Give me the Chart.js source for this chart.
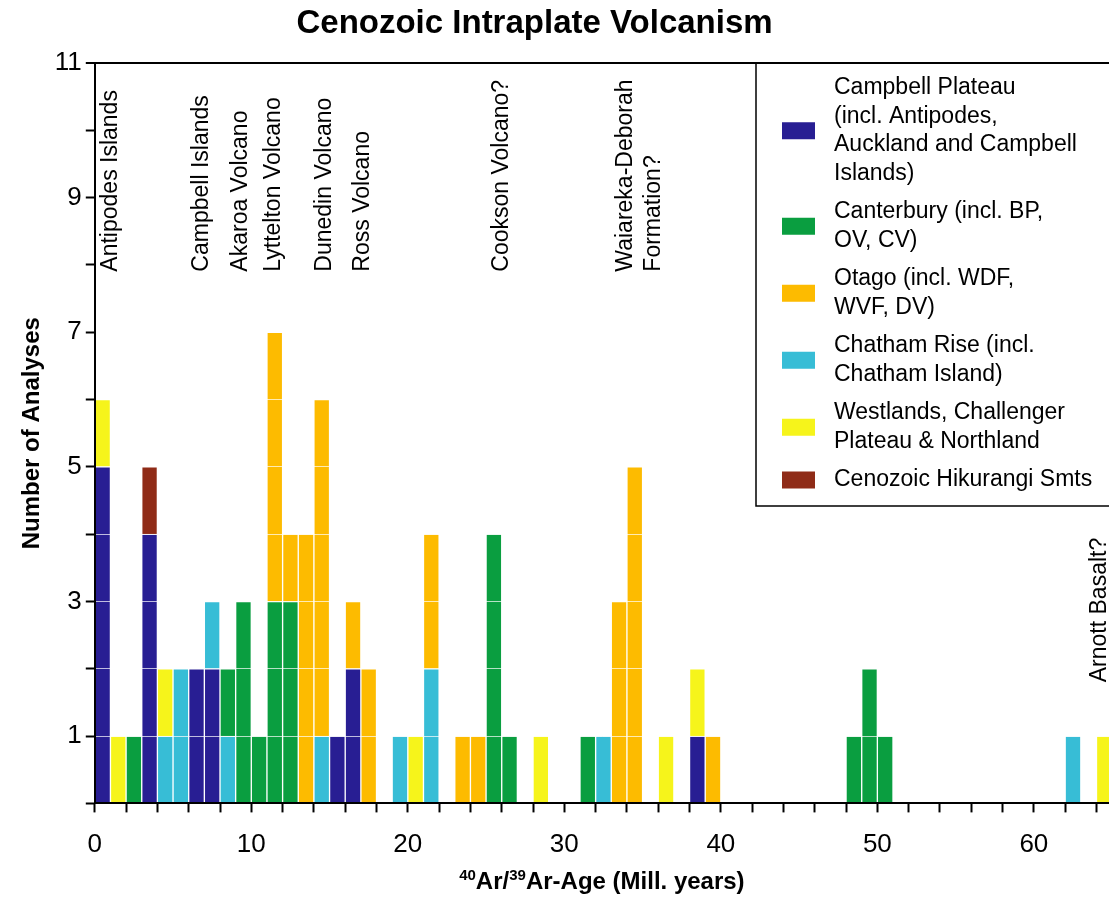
<!DOCTYPE html>
<html>
<head>
<meta charset="utf-8">
<script src="https://cdn.jsdelivr.net/npm/chart.js@4.4.1/dist/chart.umd.min.js"></script>
<style>
  html, body { margin: 0; padding: 0; background: #fff; overflow: hidden; }
  canvas { display: block; }
</style>
</head>
<body>
<canvas id="myChart" width="1109" height="905"></canvas>
<script>
// series, listed bottom -> top of each stack
const seriesNames = [
  ['Campbell Plateau', '(incl. Antipodes,', 'Auckland and Campbell', 'Islands)'],
  ['Chatham Rise (incl.', 'Chatham Island)'],
  ['Canterbury (incl. BP,', 'OV, CV)'],
  ['Otago (incl. WDF,', 'WVF, DV)'],
  ['Westlands, Challenger', 'Plateau & Northland'],
  ['Cenozoic Hikurangi Smts']
];
const colors = ['#281e93', '#37bdd6', '#0a9e40', '#fdbb00', '#f6f41b', '#8f2b17'];
const legendOrder = [0, 2, 3, 1, 4, 5];

// 1 Ma age bins (bin start, Ma) and number of analyses in each
const campbellBins = [0, 3, 6, 7, 15, 16, 38];
const campbellCounts = [5, 4, 2, 2, 1, 2, 1];
const chathamBins = [4, 5, 7, 8, 14, 19, 21, 32, 62];
const chathamCounts = [1, 2, 1, 1, 1, 1, 2, 1, 1];
const canterburyBins = [2, 8, 9, 10, 11, 12, 25, 26, 31, 48, 49, 50];
const canterburyCounts = [1, 1, 3, 1, 3, 3, 4, 1, 1, 1, 2, 1];
const otagoBins = [11, 12, 13, 14, 16, 17, 21, 23, 24, 33, 34, 39];
const otagoCounts = [4, 1, 4, 5, 1, 2, 2, 1, 1, 3, 5, 1];
const westlandBins = [0, 1, 4, 20, 28, 36, 38, 64];
const westlandCounts = [1, 1, 1, 1, 1, 1, 1, 1];
const hikurangiBins = [3];
const hikurangiCounts = [1];

// site names written over the plot (age in Ma, level in counts)
const siteLabels = ['Antipodes Islands', 'Campbell Islands', 'Akaroa Volcano', 'Lyttelton Volcano',
  'Dunedin Volcano', 'Ross Volcano', 'Cookson Volcano?', 'Waiareka-Deborah\nFormation?', 'Arnott Basalt?'];
const siteAge = [1.0, 6.8, 9.3, 11.4, 14.7, 17.1, 26.0, 34.8, 64.2];
const siteLevel = [7.9, 7.9, 7.9, 7.9, 7.9, 7.9, 7.9, 7.9, 1.8];

const binSets = [
  [campbellBins, campbellCounts],
  [chathamBins, chathamCounts],
  [canterburyBins, canterburyCounts],
  [otagoBins, otagoCounts],
  [westlandBins, westlandCounts],
  [hikurangiBins, hikurangiCounts]
];

const FONT = '"Liberation Sans", Arial, sans-serif';
Chart.defaults.font.family = FONT;
Chart.defaults.color = '#000';

const datasets = binSets.map((s, k) => ({
  label: seriesNames[k].join(' '),
  data: s[0].map((b, i) => ({ x: b + 0.5, y: s[1][i] })),
  backgroundColor: colors[k],
  borderColor: 'rgba(255,255,255,0.75)',
  borderWidth: 1,
  barPercentage: 1,
  categoryPercentage: 1
}));

const overlay = {
  id: 'overlay',
  afterDraw(chart) {
    const { ctx, chartArea, scales: { x, y } } = chart;
    ctx.save();

    // title
    ctx.fillStyle = '#000';
    ctx.textAlign = 'center';
    ctx.textBaseline = 'middle';
    ctx.font = 'bold 33px ' + FONT;
    ctx.fillText('Cenozoic Intraplate Volcanism', chart.width * 0.482, 24);

    // x axis title with superscripts
    const parts = [['40', true], ['Ar/', false], ['39', true], ['Ar-Age (Mill. years)', false]];
    const big = 'bold 24px ' + FONT, small = 'bold 15px ' + FONT;
    let w = 0;
    parts.forEach(p => { ctx.font = p[1] ? small : big; w += ctx.measureText(p[0]).width; });
    let tx = (chartArea.left + chartArea.right) / 2 - w / 2;
    const base = chartArea.bottom + 86;
    ctx.textAlign = 'left';
    ctx.textBaseline = 'alphabetic';
    parts.forEach(p => {
      ctx.font = p[1] ? small : big;
      ctx.fillText(p[0], tx, p[1] ? base - 9 : base);
      tx += ctx.measureText(p[0]).width;
    });

    // site names
    ctx.font = '23px ' + FONT;
    siteLabels.forEach((txt, i) => {
      const lines = txt.split('\n');
      ctx.save();
      ctx.translate(x.getPixelForValue(siteAge[i]), y.getPixelForValue(siteLevel[i]));
      ctx.rotate(-Math.PI / 2);
      ctx.textAlign = 'left';
      ctx.textBaseline = 'middle';
      lines.forEach((l, j) => ctx.fillText(l, 0, (j - (lines.length - 1) / 2) * 28));
      ctx.restore();
    });

    // legend box
    const left = chartArea.right - 353, top = chartArea.top, bottom = chartArea.top + 443;
    ctx.fillStyle = '#fff';
    ctx.fillRect(left, top + 1.5, chartArea.right - left, bottom - top - 1.5);
    ctx.strokeStyle = '#000';
    ctx.lineWidth = 1.5;
    ctx.beginPath();
    ctx.moveTo(left, top);
    ctx.lineTo(left, bottom);
    ctx.lineTo(chartArea.right, bottom);
    ctx.stroke();
    const lh = 28.5;
    let ty = top + 25;
    ctx.textAlign = 'left';
    ctx.textBaseline = 'middle';
    legendOrder.forEach(k => {
      const lines = seriesNames[k];
      const mid = ty + (lines.length - 1) * lh / 2;
      ctx.fillStyle = colors[k];
      ctx.fillRect(left + 26, mid - 8.5, 33, 17);
      ctx.fillStyle = '#000';
      lines.forEach((l, j) => ctx.fillText(l, left + 78, ty + j * lh));
      ty += lines.length * lh + 10;
    });
    ctx.restore();
  }
};

const ctx = document.getElementById('myChart').getContext('2d');
const myChart = new Chart(ctx, {
  type: 'bar',
  data: { datasets: datasets },
  plugins: [overlay],
  options: {
    responsive: false,
    animation: false,
    layout: { padding: { left: 14, right: 0, top: 63, bottom: 27 } },
    plugins: {
      legend: { display: false },
      tooltip: { enabled: false },
      title: { display: false }
    },
    scales: {
      x: {
        type: 'linear',
        stacked: true,
        offset: false,
        min: 0,
        max: 64.8,
        ticks: {
          stepSize: 2,
          includeBounds: false,
          autoSkip: false,
          maxRotation: 0,
          callback: v => (v % 10 === 0 ? v : ''),
          font: { size: 26, lineHeight: 1.6 },
          color: '#000',
          padding: 12
        },
        grid: { offset: false, drawOnChartArea: false, tickLength: 9, tickColor: '#000', tickWidth: 2 },
        border: { color: '#000', width: 2, z: 2 }
      },
      y: {
        stacked: true,
        min: 0,
        max: 11,
        ticks: {
          stepSize: 1,
          autoSkip: false,
          callback: v => (v % 2 === 1 ? v : ''),
          font: { size: 26 },
          color: '#000',
          padding: 4
        },
        grid: {
          z: 1,
          color: c => (c.tick && c.tick.value === 11 ? '#000' : (c.tick && c.tick.value === 0 ? 'rgba(0,0,0,0)' : 'rgba(255,255,255,0.7)')),
          lineWidth: c => (c.tick && c.tick.value === 11 ? 2 : 1),
          tickColor: '#000',
          tickWidth: 2,
          tickLength: 9
        },
        border: { color: '#000', width: 2, z: 2 },
        title: {
          display: true,
          text: 'Number of Analyses',
          font: { size: 24, weight: 'bold' },
          color: '#000'
        }
      }
    }
  }
});
</script>
</body>
</html>
